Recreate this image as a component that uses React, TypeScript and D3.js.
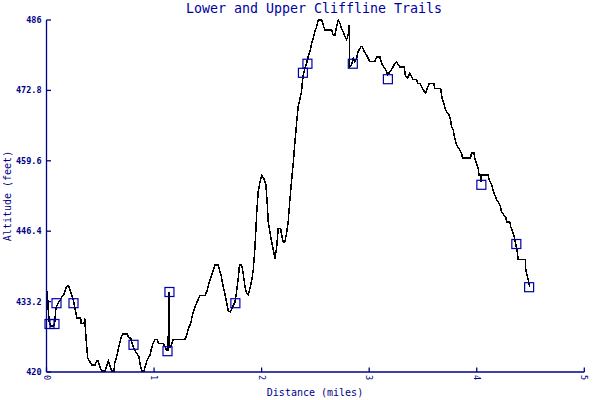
import React from "react";
import * as d3 from "d3";

const title = "Lower and Upper Cliffline Trails";
const xLabel = "Distance (miles)";
const yLabel = "Altitude (feet)";
const xTicks = [0, 1, 2, 3, 4, 5];
const yTicks = [420, 433.2, 446.4, 459.6, 472.8, 486];
const yTickLabels = ["420", "433.2", "446.4", "459.6", "472.8", "486"];

const miles = [
  0.009, 0.014, 0.026, 0.037, 0.065, 0.076, 0.088, 0.1, 0.144, 0.163, 0.181, 0.193, 0.206, 0.218, 0.234, 0.249,
  0.262, 0.274, 0.281, 0.318, 0.323, 0.349, 0.355, 0.361, 0.374, 0.383, 0.404, 0.42, 0.451, 0.467, 0.481, 0.497,
  0.513, 0.544, 0.559, 0.574, 0.59, 0.606, 0.627, 0.634, 0.652, 0.671, 0.692, 0.708, 0.751, 0.76, 0.783, 0.795,
  0.813, 0.838, 0.857, 0.869, 0.885, 0.906, 0.918, 0.937, 0.962, 0.98, 0.993, 1.011, 1.03, 1.043, 1.085, 1.104,
  1.117, 1.129, 1.141, 1.146, 1.154, 1.178, 1.287, 1.303, 1.318, 1.34, 1.362, 1.38, 1.401, 1.427, 1.473, 1.492,
  1.513, 1.535, 1.55, 1.566, 1.597, 1.612, 1.628, 1.643, 1.659, 1.675, 1.691, 1.71, 1.729, 1.752, 1.768, 1.783,
  1.794, 1.814, 1.829, 1.845, 1.861, 1.876, 1.891, 1.907, 1.922, 1.933, 1.942, 1.954, 1.968, 1.984, 2.0, 2.021,
  2.04, 2.052, 2.061, 2.077, 2.093, 2.108, 2.124, 2.139, 2.154, 2.177, 2.186, 2.201, 2.216, 2.232, 2.247, 2.263,
  2.279, 2.294, 2.309, 2.325, 2.34, 2.356, 2.372, 2.377, 2.387, 2.402, 2.418, 2.433, 2.449, 2.465, 2.48, 2.495,
  2.511, 2.526, 2.558, 2.572, 2.588, 2.651, 2.665, 2.681, 2.697, 2.712, 2.728, 2.743, 2.758, 2.774, 2.79, 2.805,
  2.814, 2.818, 2.836, 2.851, 2.867, 2.883, 2.898, 2.923, 2.935, 2.953, 2.976, 2.991, 3.006, 3.053, 3.069, 3.099,
  3.115, 3.146, 3.162, 3.174, 3.192, 3.214, 3.239, 3.255, 3.27, 3.285, 3.325, 3.332, 3.338, 3.357, 3.378, 3.394,
  3.409, 3.441, 3.45, 3.471, 3.487, 3.502, 3.524, 3.541, 3.559, 3.601, 3.608, 3.664, 3.673, 3.682, 3.694, 3.71,
  3.729, 3.743, 3.757, 3.766, 3.781, 3.79, 3.803, 3.812, 3.827, 3.843, 3.859, 3.868, 3.942, 3.952, 3.973, 3.982,
  3.998, 4.013, 4.022, 4.038, 4.041, 4.045, 4.106, 4.115, 4.138, 4.152, 4.168, 4.184, 4.208, 4.221, 4.23, 4.252,
  4.27, 4.277, 4.308, 4.317, 4.333, 4.348, 4.361, 4.37, 4.379, 4.385, 4.454, 4.456, 4.468, 4.478, 4.493,
];

const altitude = [
  435.2, 432.2, 429.4, 428.6, 428.6, 429.2, 432.0, 432.6, 434.1, 434.6, 435.8, 436.1, 436.1, 435.4, 434.4, 433.5,
  432.2, 431.1, 430.1, 430.1, 429.1, 429.1, 430.1, 428.3, 424.7, 422.6, 421.9, 421.3, 421.3, 422.1, 422.1, 420.9,
  420.2, 420.2, 421.1, 422.1, 421.1, 420.2, 420.2, 421.6, 422.8, 424.7, 426.3, 427.1, 427.1, 426.6, 426.3, 425.4,
  424.4, 423.5, 423.0, 421.6, 420.2, 420.2, 421.1, 422.3, 423.2, 424.7, 425.5, 426.1, 426.1, 425.3, 425.3, 424.7,
  424.0, 424.0, 435.0, 424.7, 424.7, 426.1, 426.1, 426.9, 428.1, 429.1, 431.1, 432.2, 433.2, 434.3, 434.3, 435.2,
  436.8, 438.2, 439.1, 440.1, 440.1, 438.9, 437.7, 435.9, 434.6, 433.0, 431.4, 431.3, 432.2, 433.1, 435.2, 437.6,
  440.1, 440.1, 438.4, 436.1, 434.7, 434.4, 435.6, 437.1, 439.1, 441.9, 444.8, 449.8, 453.8, 455.6, 456.9, 456.3,
  455.1, 451.7, 448.2, 446.3, 444.4, 442.9, 441.3, 443.2, 446.9, 446.9, 445.7, 444.4, 444.4, 446.0, 448.2, 452.3,
  456.0, 459.2, 462.9, 466.7, 469.7, 471.2, 472.6, 474.1, 475.7, 476.9, 477.9, 479.1, 480.1, 481.6, 482.6, 483.8,
  484.7, 486.0, 486.0, 485.1, 484.1, 484.1, 483.2, 483.2, 484.7, 486.0, 485.4, 484.4, 483.8, 482.9, 482.3, 483.2,
  485.1, 477.2, 477.6, 478.8, 478.2, 478.8, 480.1, 481.0, 481.0, 480.1, 479.4, 478.8, 478.2, 478.2, 479.1, 479.1,
  477.9, 476.9, 476.3, 475.7, 476.3, 476.9, 477.9, 478.2, 477.6, 477.2, 477.2, 476.3, 475.4, 475.1, 476.0, 475.4,
  474.8, 474.8, 474.1, 474.1, 473.5, 472.9, 472.3, 473.3, 474.1, 474.1, 473.2, 473.2, 471.9, 471.0, 470.4, 469.1,
  468.5, 468.2, 467.3, 466.0, 465.4, 464.4, 463.2, 462.6, 462.1, 461.6, 461.0, 460.1, 460.1, 461.1, 461.1, 460.1,
  459.1, 458.2, 456.9, 456.9, 455.6, 456.9, 456.9, 456.0, 455.1, 454.1, 453.2, 452.3, 451.6, 451.0, 450.1, 449.4,
  449.1, 448.1, 448.1, 447.2, 446.3, 445.4, 444.2, 443.2, 442.3, 441.1, 441.1, 439.1, 438.2, 437.3, 436.0,
];

const waypointMiles = [0.028, 0.074, 0.093, 0.251, 0.809, 1.125, 1.143, 1.756, 2.384, 2.426, 2.848, 3.174, 4.043, 4.368, 4.487];
const waypointAltitude = [429.0, 429.0, 432.9, 432.9, 425.1, 423.9, 435.0, 432.9, 476.1, 477.8, 477.8, 474.9, 455.1, 444.0, 435.9];

const NAVY = "#000088";
const BOX = "#0000aa";
const FONT = "'DejaVu Sans Mono', 'Liberation Mono', monospace";

export default function App() {
  const W = 600;
  const H = 400;
  const x = d3.scaleLinear().domain([0, 5]).range([46.5, 584.3]);
  const y = d3.scaleLinear().domain([420, 486]).range([372, 20]);

  const pts: [number, number][] = miles.map((m, i) => [m, altitude[i]]);
  const line = d3
    .line<[number, number]>()
    .x((d) => x(d[0]))
    .y((d) => y(d[1]));

  const [x0, x1] = x.range();
  const [yb, yt] = y.range();

  return (
    <svg
      width={W}
      height={H}
      viewBox={`0 0 ${W} ${H}`}
      style={{ position: "absolute", left: 0, top: 0, background: "#fff" }}
    >
      <rect x={0} y={0} width={W} height={H} fill="#fff" />
      <text x={314} y={13} textAnchor="middle" fontFamily={FONT} fontSize={13.3} fill="#0000a0">
        {title}
      </text>

      {/* data line */}
      <path
        d={line(pts) || ""}
        fill="none"
        stroke="#000"
        strokeWidth={1.5}
        strokeLinejoin="miter"
        shapeRendering="crispEdges"
      />

      {/* waypoint boxes */}
      {waypointMiles.map((m, i) => (
        <rect
          key={i}
          x={x(m) - 4.5}
          y={y(waypointAltitude[i]) - 4.5}
          width={9}
          height={9}
          fill="none"
          stroke={BOX}
          strokeWidth={1.2}
        />
      ))}

      {/* axes */}
      <line x1={x0} y1={yb} x2={x1} y2={yb} stroke={NAVY} strokeWidth={1.3} />
      <line x1={x0} y1={yb} x2={x0} y2={yt} stroke={NAVY} strokeWidth={1.3} />

      {yTicks.map((t, i) => (
        <g key={"y" + i}>
          <line x1={x0} x2={x0 + 4.5} y1={y(t)} y2={y(t)} stroke={NAVY} strokeWidth={1.3} />
          <text
            x={41.5}
            y={y(t)}
            textAnchor="end"
            dominantBaseline="central"
            fontFamily={FONT}
            fontWeight="bold"
            fontSize={8.5}
            fill={NAVY}
          >
            {yTickLabels[i]}
          </text>
        </g>
      ))}

      {xTicks.map((t, i) => (
        <g key={"x" + i}>
          <line x1={x(t)} x2={x(t)} y1={yb} y2={yb - 4.5} stroke={NAVY} strokeWidth={1.3} />
          <text
            transform={`translate(${x(t)},${yb + 3}) rotate(90)`}
            textAnchor="start"
            dominantBaseline="central"
            fontFamily={FONT}
            fontSize={8.5}
            fill={NAVY}
          >
            {String(t)}
          </text>
        </g>
      ))}

      <text x={315} y={396} textAnchor="middle" fontFamily={FONT} fontSize={10} fill={NAVY}>
        {xLabel}
      </text>
      <text
        transform={`translate(11,196) rotate(-90)`}
        textAnchor="middle"
        fontFamily={FONT}
        fontSize={10}
        fill={NAVY}
      >
        {yLabel}
      </text>
    </svg>
  );
}
